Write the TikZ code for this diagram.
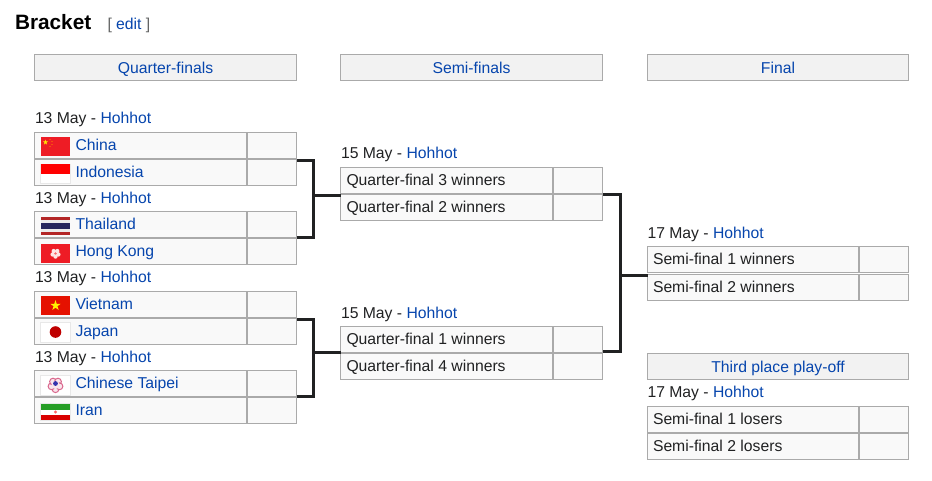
\documentclass[tikz,border=0pt]{standalone}
\usepackage{fontspec}
\setmainfont{Liberation Sans}
\definecolor{linkblue}{HTML}{0645AD}
\definecolor{inktext}{HTML}{202122}
\definecolor{celledge}{HTML}{AAAAAA}
\definecolor{cellfill}{HTML}{F9F9F9}
\definecolor{headfill}{HTML}{F2F2F2}
\definecolor{flagedge}{HTML}{E8E8E8}
\definecolor{flagred}{HTML}{EE1C25}
\tikzset{every picture/.style={line width=0.75pt}}
\tikzset{
	basecell/.style={draw=celledge,fill=cellfill,anchor=north west,inner sep=0pt,outer sep=0pt,minimum height=19.5pt},
	teamcell/.style={basecell,minimum width=159pt},
	finalcell/.style={basecell,minimum width=158.25pt},
	scorecell/.style={basecell,minimum width=36.75pt},
	headcell/.style={draw=celledge,fill=headfill,anchor=north west,inner sep=0pt,outer sep=0pt,minimum width=196.5pt,minimum height=19.5pt,text=linkblue,text height=11.4pt,text depth=2.5pt,font=\fontsize{11.8}{14}\selectfont},
	plaintext/.style={anchor=base west,inner sep=0pt,text=inktext,font=\fontsize{11.8}{14}\selectfont},
	linktext/.style={plaintext,text=linkblue},
	bracketline/.style={draw=inktext,line width=2.25pt},
	whiteflag/.style={draw=flagedge,fill=white}
}

\begin{document}
\begin{tikzpicture}[x=0.75pt,y=0.75pt,yscale=-1,xscale=1]
	\useasboundingbox (0,0) rectangle (932,480);

	% Text Node
	\node [plaintext,font=\fontsize{15.6}{18}\selectfont\bfseries,text=black] (title) at (14.5,29) {Bracket};
	% Text Node
	\node [plaintext,text=inktext!70] (edit) at (107,29.3) {[ \textcolor{linkblue}{edit} ]};

	% Round headers
	\node [headcell] (headqf) at (34.5,54.5) {Quarter-finals};
	\node [headcell] (headsf) at (340.5,54.5) {Semi-finals};
	\node [headcell,minimum width=195.75pt] (headfinal) at (647.5,54.5) {Final};
	\node [headcell,minimum width=195.75pt] (headthird) at (647.5,353.5) {Third place play-off};

	% Quarter-final cells
	\node [teamcell] (chn) at (34.5,132.5) {};
	\node [scorecell] (chnscore) at (247.5,132.5) {};
	\node [teamcell] (idn) at (34.5,159.5) {};
	\node [scorecell] (idnscore) at (247.5,159.5) {};
	\node [teamcell] (tha) at (34.5,211.5) {};
	\node [scorecell] (thascore) at (247.5,211.5) {};
	\node [teamcell] (hkg) at (34.5,238.5) {};
	\node [scorecell] (hkgscore) at (247.5,238.5) {};
	\node [teamcell] (vie) at (34.5,291.5) {};
	\node [scorecell] (viescore) at (247.5,291.5) {};
	\node [teamcell] (jpn) at (34.5,318.5) {};
	\node [scorecell] (jpnscore) at (247.5,318.5) {};
	\node [teamcell] (tpe) at (34.5,370.5) {};
	\node [scorecell] (tpescore) at (247.5,370.5) {};
	\node [teamcell] (irn) at (34.5,397.5) {};
	\node [scorecell] (irnscore) at (247.5,397.5) {};

	% Semi-final cells
	\node [teamcell] (sfa) at (340.5,167.5) {};
	\node [scorecell] (sfascore) at (553.5,167.5) {};
	\node [teamcell] (sfb) at (340.5,194.5) {};
	\node [scorecell] (sfbscore) at (553.5,194.5) {};
	\node [teamcell] (sfc) at (340.5,326.5) {};
	\node [scorecell] (sfcscore) at (553.5,326.5) {};
	\node [teamcell] (sfd) at (340.5,353.5) {};
	\node [scorecell] (sfdscore) at (553.5,353.5) {};

	% Final and third place cells
	\node [finalcell] (fina) at (647.5,246.5) {};
	\node [scorecell] (finascore) at (859.5,246.5) {};
	\node [finalcell] (finb) at (647.5,274.5) {};
	\node [scorecell] (finbscore) at (859.5,274.5) {};
	\node [finalcell] (trda) at (647.5,406.5) {};
	\node [scorecell] (trdascore) at (859.5,406.5) {};
	\node [finalcell] (trdb) at (647.5,433.5) {};
	\node [scorecell] (trdbscore) at (859.5,433.5) {};

	% Connectors
	\coordinate (joinqfa) at (313,195.5);
	\coordinate (joinqfb) at (313,352);
	\coordinate (joinsf) at (620,275);
	\draw [bracketline] ([yshift=0.75pt]idnscore.north east) -| (joinqfa) |- ([yshift=-1.1pt]hkgscore.north east);
	\draw [bracketline] (joinqfa) -- (joinqfa -| sfb.west);
	\draw [bracketline] ([yshift=0.75pt]jpnscore.north east) -| (joinqfb) |- ([yshift=-1.1pt]irnscore.north east);
	\draw [bracketline] (joinqfb) -- (joinqfb -| sfd.west);
	\draw [bracketline] (sfbscore.north east) -| (joinsf) |- ([yshift=-1.4pt]sfdscore.north east);
	\draw [bracketline] (joinsf) -- (joinsf -| finb.west);

	% Flag: China
	\fill [flagred] (41,137) rectangle (70,156);
	\fill [yellow!90!orange] (45.5,139.5) -- (47,144.5) -- (43,141.4) -- (48,141.4) -- (44,144.5) -- cycle;
	\fill [orange] (50,139.5) circle (0.6) (52,141.5) circle (0.6) (52,144.5) circle (0.6) (50,146.5) circle (0.6);
	% Flag: Indonesia
	\draw [whiteflag] (40.5,164) rectangle (70.5,183.5);
	\fill [red] (41,164) rectangle (70,173.5);
	% Flag: Thailand
	\fill [red!65!black!85] (41,217) rectangle (70,235);
	\fill [white!92!black] (41,220) rectangle (70,232);
	\fill [blue!25!black!85] (41,223) rectangle (70,229);
	% Flag: Hong Kong
	\fill [flagred] (41,244) rectangle (70,263);
	\foreach \petal in {90,162,234,306,18}
		\fill [white!90!red] (55.5,253.5) ++(\petal:3) circle (2.2);
	\fill [red!60!white] (55.5,253.5) circle (0.8);
	% Flag: Vietnam
	\fill [red!85!orange!90!black] (41,296) rectangle (70,315);
	\fill [yellow] (55.5,300) -- (58.7,310) -- (50.3,303.8) -- (60.7,303.8) -- (52.3,310) -- cycle;
	% Flag: Japan
	\draw [whiteflag] (40.5,322.5) rectangle (70.5,342);
	\fill [red!75!black] (55.5,332) circle (5.8);
	% Flag: Chinese Taipei
	\draw [whiteflag] (40.5,375.5) rectangle (70.5,395);
	\foreach \petal in {90,162,234,306,18}
		\filldraw [draw=purple!60,fill=purple!10] (55.5,385) ++(\petal:4.2) circle (3.4);
	\fill [purple!10] (55.5,385) circle (4);
	\fill [blue!60!black!80] (55.5,383.5) circle (2.4);
	% Flag: Iran
	\draw [whiteflag] (40.5,403.5) rectangle (70.5,420.5);
	\fill [green!55!black!85] (41,404) rectangle (70,409.5);
	\fill [red!85!black] (41,414.5) rectangle (70,420);
	\fill [red!60!white] (55.5,412) circle (1.6);

	% Text Node
	\node [plaintext] (dateqfa) at (34.5,123.3) {13 May - \textcolor{linkblue}{Hohhot}};
	\node [plaintext] (dateqfb) at (34.5,203.3) {13 May - \textcolor{linkblue}{Hohhot}};
	\node [plaintext] (dateqfc) at (34.5,282.3) {13 May - \textcolor{linkblue}{Hohhot}};
	\node [plaintext] (dateqfd) at (34.5,362.3) {13 May - \textcolor{linkblue}{Hohhot}};
	\node [plaintext] (datesfa) at (340.5,158.3) {15 May - \textcolor{linkblue}{Hohhot}};
	\node [plaintext] (datesfb) at (340.5,318.3) {15 May - \textcolor{linkblue}{Hohhot}};
	\node [plaintext] (datefin) at (647,238.3) {17 May - \textcolor{linkblue}{Hohhot}};
	\node [plaintext] (datetrd) at (647,397.3) {17 May - \textcolor{linkblue}{Hohhot}};

	% Text Node
	\node [linktext] (chntext) at (75,150.3) {China};
	\node [linktext] (idntext) at (75,177.3) {Indonesia};
	\node [linktext] (thatext) at (75,229.3) {Thailand};
	\node [linktext] (hkgtext) at (75,256.3) {Hong Kong};
	\node [linktext] (vietext) at (75,309.3) {Vietnam};
	\node [linktext] (jpntext) at (75,336.3) {Japan};
	\node [linktext] (tpetext) at (75,388.3) {Chinese Taipei};
	\node [linktext] (irntext) at (75,415.3) {Iran};

	% Text Node
	\node [plaintext] (sfatext) at (346,185.3) {Quarter-final 3 winners};
	\node [plaintext] (sfbtext) at (346,212.3) {Quarter-final 2 winners};
	\node [plaintext] (sfctext) at (346,344.3) {Quarter-final 1 winners};
	\node [plaintext] (sfdtext) at (346,371.3) {Quarter-final 4 winners};
	\node [plaintext] (finatext) at (652.5,264.3) {Semi-final 1 winners};
	\node [plaintext] (finbtext) at (652.5,292.3) {Semi-final 2 winners};
	\node [plaintext] (trdatext) at (652.5,424.3) {Semi-final 1 losers};
	\node [plaintext] (trdbtext) at (652.5,451.3) {Semi-final 2 losers};

\end{tikzpicture}
\end{document}
